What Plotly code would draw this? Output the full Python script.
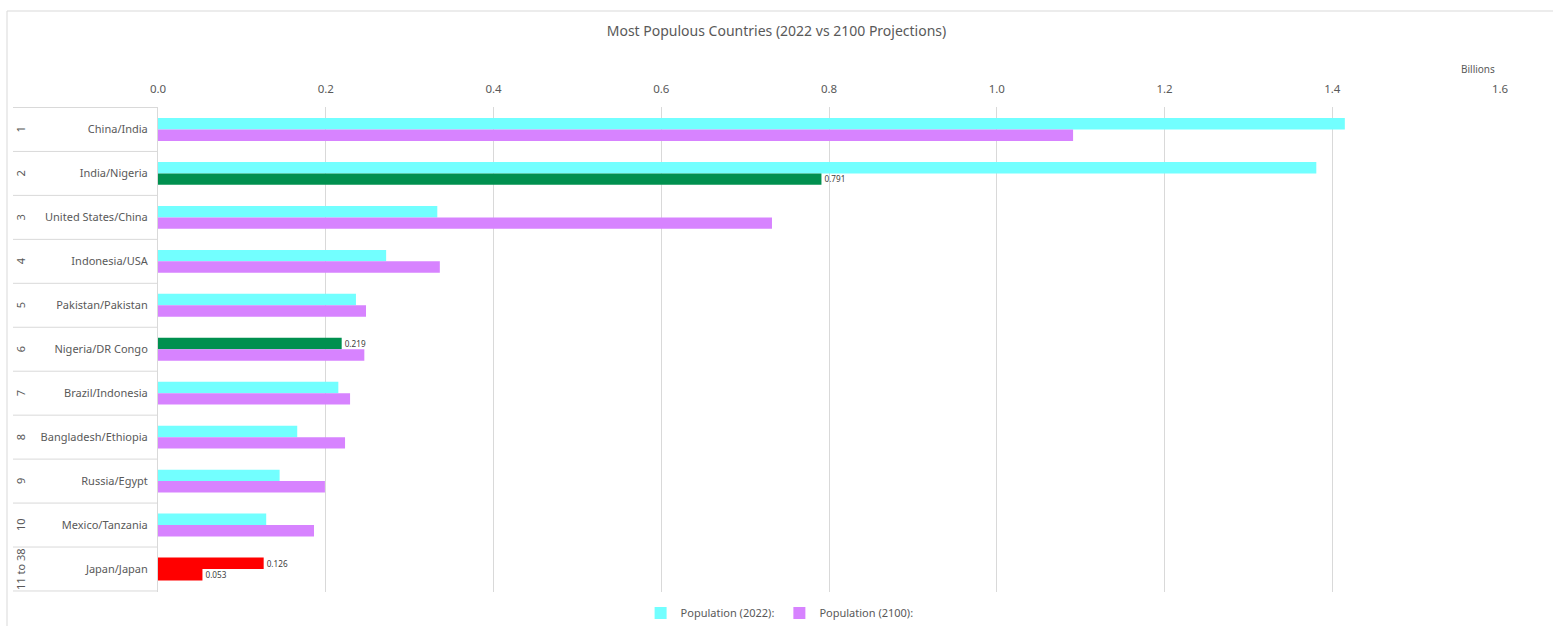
import plotly.graph_objects as go

categories = ["China/India", "India/Nigeria", "United States/China", "Indonesia/USA",
              "Pakistan/Pakistan", "Nigeria/DR Congo", "Brazil/Indonesia",
              "Bangladesh/Ethiopia", "Russia/Egypt", "Mexico/Tanzania", "Japan/Japan"]
ranks = ["1", "2", "3", "4", "5", "6", "7", "8", "9", "10", "11 to 38"]
pop_2022 = [1.415, 1.381, 0.333, 0.272, 0.236, 0.219, 0.215, 0.166, 0.145, 0.129, 0.126]
pop_2100 = [1.091, 0.791, 0.732, 0.336, 0.248, 0.246, 0.229, 0.223, 0.199, 0.186, 0.053]
colors_2022 = ["#72FFFF"] * 5 + ["#00904F"] + ["#72FFFF"] * 4 + ["#FF0000"]
colors_2100 = ["#D783FF", "#00904F"] + ["#D783FF"] * 8 + ["#FF0000"]
labeled_2022 = [5, 10]
labeled_2100 = [1, 10]
x_ticks = [0.0, 0.2, 0.4, 0.6, 0.8, 1.0, 1.2, 1.4, 1.6]

W, H = 1553, 626
L, R, T, B = 158, 53, 107, 34
pw, ph = W - L - R, H - T - B

def px_x(p):
    return (p - L) / pw

def px_y(p):
    return (H - B - p) / ph

text_2022 = [f"{v:.3f}" if i in labeled_2022 else "" for i, v in enumerate(pop_2022)]
text_2100 = [f"{v:.3f}" if i in labeled_2100 else "" for i, v in enumerate(pop_2100)]

FONT = "Noto Sans"
GRAY = "#595959"

fig = go.Figure()
fig.add_trace(go.Bar(y=categories, x=pop_2022, orientation="h", name="Population (2022):",
                     marker=dict(color=colors_2022, line=dict(width=0)),
                     text=text_2022, textposition="outside", cliponaxis=False,
                     textfont=dict(size=10, color="#404040", family=FONT)))
fig.add_trace(go.Bar(y=categories, x=pop_2100, orientation="h", name="Population (2100):",
                     marker=dict(color=colors_2100, line=dict(width=0)),
                     text=text_2100, textposition="outside", cliponaxis=False,
                     textfont=dict(size=10, color="#404040", family=FONT)))

shapes = []
for i in range(len(categories) + 1):
    shapes.append(dict(type="line", xref="paper", yref="y", x0=px_x(13), x1=0,
                       y0=i - 0.5, y1=i - 0.5, line=dict(color="#D9D9D9", width=1)))
shapes.append(dict(type="line", xref="paper", yref="paper", x0=px_x(7), x1=px_x(7),
                   y0=px_y(11), y1=px_y(626), line=dict(color="#D9D9D9", width=1)))
shapes.append(dict(type="line", xref="paper", yref="paper", x0=px_x(7), x1=px_x(1553),
                   y0=px_y(11), y1=px_y(11), line=dict(color="#D9D9D9", width=1)))

annotations = []
for i, r in enumerate(ranks):
    annotations.append(dict(text=r, xref="paper", yref="y", x=px_x(20), y=i,
                            xanchor="center", yanchor="middle",
                            showarrow=False, textangle=-90,
                            font=dict(size=11, color=GRAY, family=FONT)))
annotations.append(dict(text="Billions", xref="paper", yref="paper", x=px_x(1478), y=px_y(69),
                        xanchor="center", yanchor="middle",
                        showarrow=False, font=dict(size=10, color=GRAY, family=FONT)))

fig.update_layout(
    width=W, height=H,
    margin=dict(l=L, r=R, t=T, b=B, autoexpand=False),
    paper_bgcolor="white", plot_bgcolor="white",
    barmode="group", bargap=0.48, bargroupgap=0,
    title=dict(text="Most Populous Countries (2022 vs 2100 Projections)",
               x=0.5, xref="container", xanchor="center",
               y=1 - 31 / H, yref="container", yanchor="middle",
               font=dict(size=14, color=GRAY, family=FONT)),
    xaxis=dict(side="top", range=[0, 1.6], tickvals=x_ticks,
               ticktext=[f"{v:.1f}" for v in x_ticks],
               showgrid=True, gridcolor="#D9D9D9", gridwidth=1, zeroline=False,
               showline=False, ticks="", ticklabelstandoff=11,
               tickfont=dict(size=11.5, color=GRAY, family=FONT)),
    yaxis=dict(autorange="reversed", showgrid=False, zeroline=False,
               showline=True, linecolor="#D9D9D9", linewidth=1, ticks="",
               ticklabelstandoff=7,
               tickfont=dict(size=11, color=GRAY, family=FONT)),
    legend=dict(orientation="h", xref="container", yref="container",
                x=0.502, xanchor="center", y=1 - 613 / H, yanchor="middle",
                font=dict(size=11, color=GRAY, family=FONT),
                itemwidth=30, tracegroupgap=0),
    shapes=shapes, annotations=annotations, showlegend=True,
)

fig.write_html("out.html")
